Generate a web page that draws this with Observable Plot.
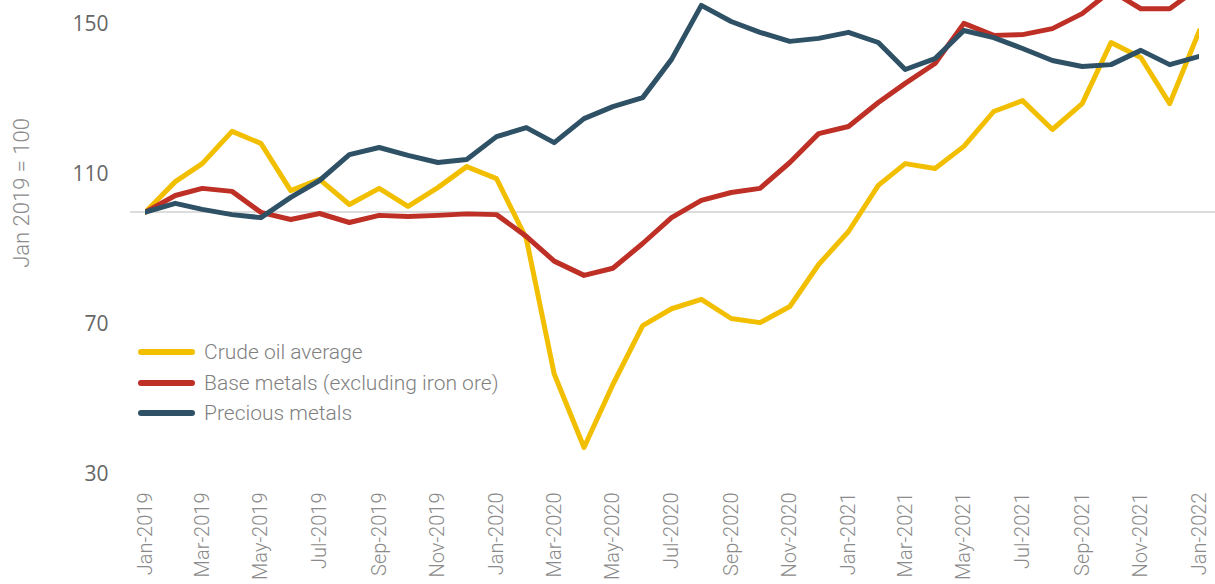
<!DOCTYPE html>
<html>
<head>
<meta charset="utf-8">
<script src="https://cdn.jsdelivr.net/npm/d3@7"></script>
<script src="https://cdn.jsdelivr.net/npm/@observablehq/plot@0.6"></script>
<style>
  html, body { margin: 0; padding: 0; background: #fff; }
  #wrap { position: relative; width: 1215px; height: 584px; overflow: hidden; font-family: Roboto, sans-serif; }
  #ytitle { position: absolute; left: 21px; top: 193px; transform: translate(-50%, -50%) rotate(-90deg); white-space: nowrap; font-size: 22px; color: #8c8c8c; font-weight: 300; }
  #legend { position: absolute; left: 138px; top: 337px; }
  .row { display: flex; align-items: center; height: 30.5px; }
  .sw { width: 57px; height: 6px; border-radius: 3px; margin-right: 9px; }
  .lab { font-size: 21px; color: #7f7f7f; font-weight: 300; white-space: nowrap; }
</style>
</head>
<body>
<div id="wrap">
  <div id="chart"></div>
  <div id="ytitle">Jan 2019 = 100</div>
  <div id="legend"></div>
</div>
<script>
const months = ["Jan-2019","Feb-2019","Mar-2019","Apr-2019","May-2019","Jun-2019","Jul-2019","Aug-2019","Sep-2019","Oct-2019","Nov-2019","Dec-2019",
  "Jan-2020","Feb-2020","Mar-2020","Apr-2020","May-2020","Jun-2020","Jul-2020","Aug-2020","Sep-2020","Oct-2020","Nov-2020","Dec-2020",
  "Jan-2021","Feb-2021","Mar-2021","Apr-2021","May-2021","Jun-2021","Jul-2021","Aug-2021","Sep-2021","Oct-2021","Nov-2021","Dec-2021","Jan-2022"];
const crudeOil = [100,108.1,112.9,121.5,118.3,105.7,108.7,102,106.3,101.5,106.5,112.1,108.9,92.9,56.8,37.2,54,69.7,74.2,76.7,71.6,70.5,74.8,86,94.8,107.1,112.9,111.6,117.5,126.8,129.7,122,128.9,145.2,141.2,128.9,148.4];
const baseMetals = [100,104.4,106.3,105.5,99.9,98,99.6,97.2,99.1,98.8,99.1,99.5,99.3,93.5,86.9,83.1,85,91.6,98.5,103.1,105.2,106.3,113.2,120.9,122.8,129.2,134.3,139.6,150.3,147.1,147.3,148.9,152.9,159,154.2,154.2,160];
const preciousMetals = [100,102.3,100.7,99.3,98.5,103.9,108.4,115.3,117.2,115.1,113.2,114,120.1,122.5,118.5,124.9,128.1,130.5,140.7,155.1,150.8,147.9,145.5,146.3,147.9,145.2,138,140.9,148.4,146.5,143.6,140.4,138.8,139.3,143.1,139.3,141.5];
const seriesNames = ["Crude oil average", "Base metals (excluding iron ore)", "Precious metals"];
const seriesColors = ["#F2BF00", "#BE2F26", "#2E5166"];
const xTickLabels = ["Jan-2019","Mar-2019","May-2019","Jul-2019","Sep-2019","Nov-2019","Jan-2020","Mar-2020","May-2020","Jul-2020","Sep-2020","Nov-2020","Jan-2021","Mar-2021","May-2021","Jul-2021","Sep-2021","Nov-2021","Jan-2022"];
const yTicks = [30, 70, 110, 150];
const baseline = [100];

const parse = d3.utcParse("%b-%Y");
const fmt = d3.utcFormat("%b-%Y");
const allSeries = [crudeOil, baseMetals, preciousMetals];
const data = allSeries.flatMap((vals, s) => vals.map((v, i) => ({date: parse(months[i]), value: v, series: seriesNames[s]})));

const chart = Plot.plot({
  width: 1215,
  height: 584,
  marginLeft: 145,
  marginRight: 16,
  marginTop: 0,
  marginBottom: 110,
  style: {fontFamily: "Roboto, sans-serif", background: "#fff"},
  x: {type: "utc", domain: [parse(months[0]), parse(months[months.length - 1])]},
  y: {domain: [30, 156.4]},
  color: {domain: seriesNames, range: seriesColors},
  marks: [
    Plot.ruleY(baseline, {stroke: "#dcdcdc", strokeWidth: 2, insetLeft: -15, insetRight: -16}),
    Plot.axisY({ticks: yTicks, tickSize: 0, tickPadding: 37, fontSize: 21, fill: "#666", fontFamily: "'Open Sans', Roboto, sans-serif", label: null}),
    Plot.axisX({ticks: xTickLabels.map(parse), tickFormat: fmt, tickRotate: -90, tickSize: 0, tickPadding: 18, fontSize: 20, fill: "#8a8a8a", fontWeight: 300, label: null}),
    Plot.line(data, {x: "date", y: "value", z: "series", stroke: "series", strokeWidth: 5, strokeLinejoin: "round", strokeLinecap: "round", clip: true})
  ]
});
document.getElementById("chart").appendChild(chart);

const legend = document.getElementById("legend");
seriesNames.forEach((n, i) => {
  const row = document.createElement("div");
  row.className = "row";
  row.innerHTML = `<div class="sw" style="background:${seriesColors[i]}"></div><div class="lab">${n}</div>`;
  legend.appendChild(row);
});
</script>
</body>
</html>
